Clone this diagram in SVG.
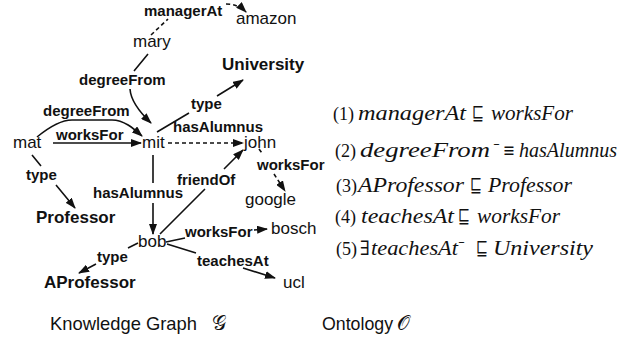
<svg xmlns="http://www.w3.org/2000/svg" width="628" height="341" viewBox="0 0 628 341">
<style>
.n{font-family:"Liberation Sans",Arial,sans-serif;font-size:17px;fill:#111}
.c{font-family:"Liberation Sans",Arial,sans-serif;font-size:17px;font-weight:bold;fill:#111}
.l{font-family:"Liberation Sans",Arial,sans-serif;font-size:15px;font-weight:bold;fill:#111}
.e{fill:none;stroke:#111;stroke-width:1.6}
.d{stroke-dasharray:4 3}
.p{font-family:"Liberation Serif","Times New Roman",serif;font-size:19px;fill:#111}
.mi{font-family:"Liberation Serif","Times New Roman",serif;font-size:20px;font-style:italic;fill:#111}
.s{font-family:"DejaVu Serif","DejaVu Sans",serif;font-size:20px;fill:#111}
.sup{font-family:"DejaVu Sans",sans-serif;font-size:11px;fill:#111}
.cap{font-family:"Liberation Sans",Arial,sans-serif;font-size:18.5px;fill:#111}
.scr{font-family:"DejaVu Serif","Liberation Serif",serif;font-size:20px;fill:#111}
</style>
<defs>
<marker id="ah" markerUnits="userSpaceOnUse" markerWidth="11" markerHeight="8" refX="10" refY="4" orient="auto">
<path d="M0,0 L11,4 L0,8 z" fill="#111"/>
</marker>
</defs>
<rect width="628" height="341" fill="#fff"/>
<g id="connectors">
<g id="e-managerAt"><path class="e d" d="M151,35 L168,19 M226,4 Q238,4 246,12" marker-end="url(#ah)"/><text class="l" x="144" y="16">managerAt</text></g>
<g id="e-mary-degreeFrom"><path class="e" d="M148,54 L134,71 M130,89 Q131,104 151,123" marker-end="url(#ah)"/><text class="l" x="79" y="85">degreeFrom</text></g>
<g id="e-mat-degreeFrom"><path class="e" d="M37,137 C48,128 60,120 72,120 L112,120 C124,120 133,128 142,136" marker-end="url(#ah)"/><text class="l" x="43" y="116">degreeFrom</text></g>
<g id="e-mat-worksFor"><path class="e" d="M53,143 L141,143" marker-end="url(#ah)"/><text class="l" x="56" y="140">worksFor</text></g>
<g id="e-mit-type"><path class="e" d="M157,132 L189,113 M217,96 L243,80" marker-end="url(#ah)"/><text class="l" x="191" y="109">type</text></g>
<g id="e-mit-hasAlumnus-john"><path class="e d" d="M168,143 L243,143" marker-end="url(#ah)"/><text class="l" x="173" y="132">hasAlumnus</text></g>
<g id="e-john-worksFor"><path class="e d" d="M259,149 L262,153 M274,174 L285,191" marker-end="url(#ah)"/><text class="l" x="257" y="170">worksFor</text></g>
<g id="e-mit-hasAlumnus-bob"><path class="e" d="M153,155 L153,183 M153,203 L153,234" marker-end="url(#ah)"/><text class="l" x="93" y="198">hasAlumnus</text></g>
<g id="e-friendOf"><path class="e" d="M160,234 L205,189 M224,169 L243,150" marker-end="url(#ah)"/><text class="l" x="177" y="185">friendOf</text></g>
<g id="e-bob-worksFor"><path class="e" d="M166,242 L185,238 M254,230 L267,229" marker-end="url(#ah)"/><text class="l" x="185" y="237">worksFor</text></g>
<g id="e-teachesAt"><path class="e" d="M167,244 L196,253 M243,268 L275,278" marker-end="url(#ah)"/><text class="l" x="197" y="266">teachesAt</text></g>
<g id="e-bob-type"><path class="e" d="M138,243 L128,248 M96,264 L79,273" marker-end="url(#ah)"/><text class="l" x="97" y="262">type</text></g>
<g id="e-mat-type"><path class="e" d="M32,155 L41,166 M56,185 L75,208" marker-end="url(#ah)"/><text class="l" x="26" y="180">type</text></g>
</g>
<g id="amazon"><text class="n" x="236" y="24">amazon</text></g>
<g id="mary"><text class="n" x="133" y="47">mary</text></g>
<g id="University"><text class="c" x="222" y="70">University</text></g>
<g id="mat"><text class="n" x="13" y="148">mat</text></g>
<g id="mit"><text class="n" x="142" y="148">mit</text></g>
<g id="john"><text class="n" x="244" y="148">john</text></g>
<g id="google"><text class="n" x="245" y="205">google</text></g>
<g id="Professor"><text class="c" x="36" y="223">Professor</text></g>
<g id="bob"><text class="n" x="138" y="247">bob</text></g>
<g id="bosch"><text class="n" x="271" y="234">bosch</text></g>
<g id="AProfessor"><text class="c" x="44" y="288">AProfessor</text></g>
<g id="ucl"><text class="n" x="283" y="288">ucl</text></g>
<g id="ontology">
<text class="p" x="333" y="120" textLength="21" lengthAdjust="spacingAndGlyphs">(1)</text>
<text class="mi" x="358" y="120" textLength="108" lengthAdjust="spacingAndGlyphs">managerAt</text>
<text class="s" x="472" y="120" textLength="12" lengthAdjust="spacingAndGlyphs">⊑</text>
<text class="mi" x="491" y="120" textLength="82" lengthAdjust="spacingAndGlyphs">worksFor</text>
<text class="p" x="335" y="157" textLength="21" lengthAdjust="spacingAndGlyphs">(2)</text>
<text class="mi" x="360" y="157" textLength="130" lengthAdjust="spacingAndGlyphs">degreeFrom</text>
<text class="sup" x="493" y="148" textLength="7" lengthAdjust="spacingAndGlyphs">−</text>
<text class="s" x="503" y="157" textLength="12" lengthAdjust="spacingAndGlyphs">≡</text>
<text class="mi" x="519" y="157" textLength="98" lengthAdjust="spacingAndGlyphs">hasAlumnus</text>
<text class="p" x="336" y="192" textLength="21" lengthAdjust="spacingAndGlyphs">(3)</text>
<text class="mi" x="358" y="192" textLength="106" lengthAdjust="spacingAndGlyphs">AProfessor</text>
<text class="s" x="470" y="192" textLength="12" lengthAdjust="spacingAndGlyphs">⊑</text>
<text class="mi" x="488" y="192" textLength="84" lengthAdjust="spacingAndGlyphs">Professor</text>
<text class="p" x="335" y="223" textLength="21" lengthAdjust="spacingAndGlyphs">(4)</text>
<text class="mi" x="361" y="223" textLength="93" lengthAdjust="spacingAndGlyphs">teachesAt</text>
<text class="s" x="458" y="223" textLength="12" lengthAdjust="spacingAndGlyphs">⊑</text>
<text class="mi" x="477" y="223" textLength="83" lengthAdjust="spacingAndGlyphs">worksFor</text>
<text class="p" x="336" y="255" textLength="21" lengthAdjust="spacingAndGlyphs">(5)</text>
<text class="s" x="360" y="255" textLength="10" lengthAdjust="spacingAndGlyphs">∃</text>
<text class="mi" x="371" y="255" textLength="87" lengthAdjust="spacingAndGlyphs">teachesAt</text>
<text class="sup" x="458" y="246" textLength="7" lengthAdjust="spacingAndGlyphs">−</text>
<text class="s" x="476" y="255" textLength="12" lengthAdjust="spacingAndGlyphs">⊑</text>
<text class="mi" x="493" y="255" textLength="100" lengthAdjust="spacingAndGlyphs">University</text>
</g>
<g id="captions">
<text class="cap" x="50" y="330" textLength="147" lengthAdjust="spacingAndGlyphs">Knowledge Graph</text>
<text class="scr" x="212" y="330">𝒢</text>
<text class="cap" x="322" y="330" textLength="71" lengthAdjust="spacingAndGlyphs">Ontology</text>
<text class="scr" x="397" y="330">𝒪</text>
</g>
</svg>
